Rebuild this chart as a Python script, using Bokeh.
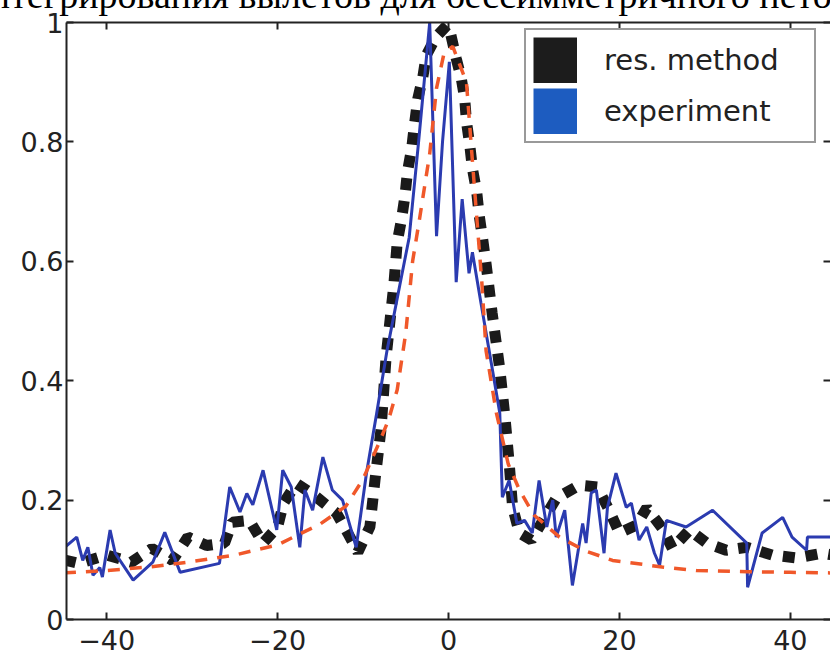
import numpy as np
from bokeh.plotting import figure
from bokeh.models import (Range1d, LinearAxis, FixedTicker, CustomJSTickFormatter,
                          Legend, LegendItem, Label, ColumnDataSource)
from bokeh.embed import file_html
from bokeh.resources import INLINE

title_text = "интегрирования вылетов для бессимметричного нето"
x_ticks = [-40, -20, 0, 20, 40]
y_ticks = [0, 0.2, 0.4, 0.6, 0.8, 1]
legend_labels = ["res. method", "experiment"]

# res. method (thick black dotted)
res_x = [-45, -43.2, -40, -37.1, -34.7, -32.3, -30.5, -28.3, -26.2, -25.3, -23.3, -21.7, -20.0,
         -19.3, -17.8, -15.7, -13.1, -11.8, -10.6, -9.2, -8.6, -7.9, -7.3, -6.4, -6.0, -5.5, -5.1,
         -4.8, -4.3, -4.0, -3.6, -3.0, -2.6, -1.5, -0.2, 0.1, 0.9, 1.5, 1.9, 2.1, 2.5, 2.8, 3.3,
         3.6, 4.0, 4.4, 5.1, 6.0, 6.6, 7.1, 7.5, 8.3, 9.7, 12.6, 15.3, 17.4, 18.8, 20.0, 22.0,
         23.2, 25.0, 26.2, 28.2, 30.2, 32.5, 34.9, 37.9, 40.7, 43.7, 45]
res_y = [0.100, 0.094, 0.108, 0.096, 0.119, 0.099, 0.138, 0.124, 0.128, 0.163, 0.166, 0.128, 0.155,
         0.195, 0.228, 0.208, 0.178, 0.145, 0.113, 0.155, 0.234, 0.318, 0.44, 0.56, 0.632, 0.67, 0.709,
         0.75, 0.79, 0.827, 0.872, 0.909, 0.945, 0.975, 0.995, 0.99, 0.94, 0.906, 0.872, 0.834, 0.793,
         0.755, 0.716, 0.676, 0.637, 0.595, 0.514, 0.42, 0.34, 0.262, 0.188, 0.145, 0.133, 0.203,
         0.225, 0.222, 0.183, 0.145, 0.158, 0.187, 0.153, 0.119, 0.15, 0.128, 0.116, 0.121, 0.108,
         0.103, 0.111, 0.108]

# experiment (blue)
exp_x = [-44.9, -43.5, -42.8, -42.2, -41.6, -40.8, -40.5, -39.6, -39.0, -36.9, -34.6, -33.2, -31.4,
         -26.8, -25.6, -24.4, -23.6, -22.9, -21.7, -20.1, -19.4, -18.4, -17.4, -16.8, -15.9, -14.7,
         -13.6, -12.4, -10.8, -9.6, -8.4, -7.2, -5.7, -4.6, -3.5, -2.2, -1.4, -0.7, 0.1, 0.9, 1.6,
         2.4, 2.8, 3.8, 5.0, 6.0, 6.3, 7.1, 8.0, 8.9, 9.8, 10.6, 11.5, 12.2, 12.6, 13.6, 14.5, 15.7,
         16.1, 16.7, 17.3, 18.2, 18.6, 19.6, 20.8, 21.4, 22.3, 23.2, 24.1, 24.7, 25.5, 27.8, 30.9,
         34.9, 35.0, 36.7, 39.1, 40.2, 41.9, 42.0, 44.7]
exp_y = [0.121, 0.138, 0.099, 0.121, 0.074, 0.087, 0.071, 0.15, 0.111, 0.066, 0.096, 0.146, 0.079,
         0.094, 0.222, 0.18, 0.211, 0.192, 0.25, 0.15, 0.25, 0.222, 0.121, 0.217, 0.183, 0.272,
         0.217, 0.2, 0.121, 0.245, 0.346, 0.45, 0.56, 0.64, 0.8, 1.0, 0.642, 0.8, 0.934, 0.565, 0.704,
         0.58, 0.615, 0.53, 0.43, 0.346, 0.205, 0.233, 0.161, 0.166, 0.145, 0.233, 0.155, 0.2, 0.138,
         0.183, 0.057, 0.161, 0.128, 0.212, 0.217, 0.111, 0.188, 0.245, 0.188, 0.195, 0.133, 0.155,
         0.111, 0.091, 0.166, 0.155, 0.183, 0.128, 0.054, 0.145, 0.171, 0.138, 0.116, 0.138, 0.138]

# red dashed curve
red_x = [-45, -40, -35, -30, -25, -20, -15, -12, -10, -8, -7, -6, -5, -4.2, -3.4, -2.2, -1.4, -0.5,
         0.5, 1.3, 2.1, 3.0, 3.9, 4.4, 5.6, 7, 8.3, 10, 13, 16, 19.2, 25, 29, 35, 40, 45]
red_y = [0.078, 0.082, 0.088, 0.097, 0.108, 0.125, 0.16, 0.19, 0.235, 0.3, 0.335, 0.385, 0.48, 0.6,
         0.67, 0.78, 0.89, 0.95, 0.96, 0.93, 0.9, 0.73, 0.565, 0.45, 0.346, 0.26, 0.217, 0.175,
         0.138, 0.115, 0.099, 0.088, 0.082, 0.08, 0.079, 0.078]

p = figure(width=830, height=681, x_range=Range1d(-44.7, 44.7), y_range=Range1d(0, 1),
           output_backend="svg", toolbar_location=None,
           x_axis_location=None, y_axis_location=None,
           min_border_left=66, min_border_right=0, min_border_top=24, min_border_bottom=42,
           margin=(-20, 0, 0, 0))
p.xgrid.grid_line_color = None
p.ygrid.grid_line_color = None
p.outline_line_color = None
p.background_fill_color = "white"
p.border_fill_color = "white"

xfmt = CustomJSTickFormatter(code="return tick < 0 ? '\\u2212' + (-tick) : String(tick);")
yfmt = CustomJSTickFormatter(code="return String(Math.round(tick*10)/10);")


def style(ax, labels=True, line=True):
    ax.axis_line_width = 2
    ax.axis_line_color = "#222222" if line else None
    ax.major_tick_line_width = 2
    ax.major_tick_line_color = "#222222"
    ax.major_tick_in = 7
    ax.major_tick_out = 0
    ax.minor_tick_line_color = None
    ax.major_label_text_font = "DejaVu Sans"
    if labels:
        ax.major_label_text_font_size = "27px"
        ax.major_label_text_color = "#222222"
    else:
        ax.major_label_text_font_size = "1px"
        ax.major_label_text_color = None
        ax.major_label_standoff = 0


bottom = LinearAxis(ticker=FixedTicker(ticks=x_ticks), formatter=xfmt)
style(bottom)
bottom.major_label_standoff = 10
top = LinearAxis(ticker=FixedTicker(ticks=x_ticks), formatter=xfmt)
style(top, labels=False)
left = LinearAxis(ticker=FixedTicker(ticks=y_ticks), formatter=yfmt)
style(left)
left.major_label_standoff = 3
right = LinearAxis(ticker=FixedTicker(ticks=y_ticks), formatter=yfmt)
style(right, labels=False, line=False)

p.add_layout(bottom, "below")
p.add_layout(top, "above")
p.add_layout(left, "left")
p.add_layout(right, "right")

p.line(res_x, res_y, line_color="#1a1a1a", line_width=11, line_dash="12 11", line_cap="butt")
p.line(exp_x, exp_y, line_color="#2b3bb0", line_width=3)
p.line(red_x, red_y, line_color="#f0582a", line_width=3.5, line_dash="12 10")

nan_src1 = ColumnDataSource(data=dict(x=np.array([np.nan]), y=np.array([np.nan])))
nan_src2 = ColumnDataSource(data=dict(x=np.array([np.nan]), y=np.array([np.nan])))
leg1 = p.line("x", "y", source=nan_src1, line_color="#1c1c1c", line_width=46, line_cap="butt")
leg2 = p.line("x", "y", source=nan_src2, line_color="#1d5cc0", line_width=46, line_cap="butt")
legend = Legend(items=[LegendItem(label=legend_labels[0], renderers=[leg1]),
                       LegendItem(label=legend_labels[1], renderers=[leg2])],
                location=(458, 476), orientation="vertical",
                glyph_width=44, glyph_height=46, spacing=5, padding=7,
                label_standoff=27, label_width=203,
                label_text_font="DejaVu Sans", label_text_font_size="29px",
                label_text_color="#222222",
                border_line_color="#333333", border_line_width=2,
                background_fill_color="white", background_fill_alpha=1.0)
p.add_layout(legend)

p.add_layout(Label(x=-97, y=28, x_units="screen", y_units="screen", text=title_text,
                   text_font="Liberation Serif", text_font_size="38px",
                   text_baseline="alphabetic", text_color="black"), "above")

open("out.html", "w", encoding="utf-8").write(file_html(p, INLINE))
